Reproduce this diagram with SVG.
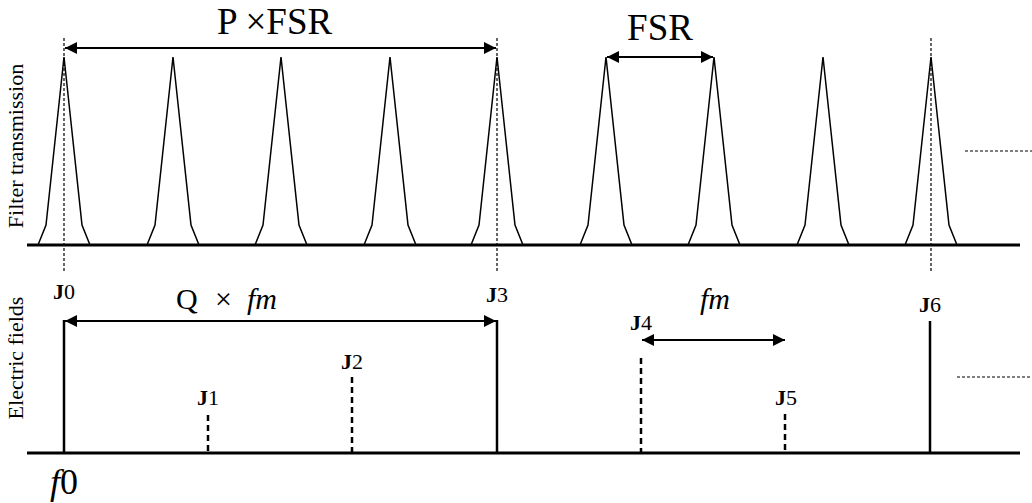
<svg xmlns="http://www.w3.org/2000/svg" width="1032" height="503" viewBox="0 0 1032 503" font-family="'Liberation Serif', 'Times New Roman', 'DejaVu Serif', serif">
<defs>
<marker id="ah" viewBox="0 0 10 10" refX="10" refY="5" markerWidth="12" markerHeight="12" markerUnits="userSpaceOnUse" orient="auto-start-reverse">
<path d="M0,0 L10,5 L0,10 Z" fill="#000"/>
</marker>
<g id="pk"><path d="M-26,245 L-18,225 L0,57 L18,225 L26,245" fill="none" stroke="#000" stroke-width="1.5" stroke-linejoin="miter"/></g>
</defs>
<style>
text{font-family:'Liberation Serif','Times New Roman','DejaVu Serif',serif;fill:#000}
.axis{stroke:#000;stroke-width:3;fill:none}
.guide{stroke:#000;stroke-width:1.2;stroke-dasharray:3,2;fill:none}
.solid{stroke:#000;stroke-width:2.5;fill:none}
.dash{stroke:#000;stroke-width:2.5;stroke-dasharray:6,4;fill:none}
.arr{stroke:#000;stroke-width:1.8;fill:none;marker-start:url(#ah);marker-end:url(#ah)}
.lbl{font-size:22px;font-weight:bold}
.sub{font-weight:normal}
</style>
<g id="axes">
<line class="axis" x1="27" y1="245" x2="1020" y2="245"/>
<line class="axis" x1="27" y1="453" x2="1020" y2="453"/>
<text x="23" y="146" font-size="22" text-anchor="middle" transform="rotate(-90 23 146)">Filter transmission</text>
<text x="23" y="358" font-size="22" text-anchor="middle" transform="rotate(-90 23 358)">Electric fields</text>
</g>
<g id="peaks">
<use href="#pk" x="64"/>
<use href="#pk" x="173"/>
<use href="#pk" x="281"/>
<use href="#pk" x="390"/>
<use href="#pk" x="497"/>
<use href="#pk" x="606"/>
<use href="#pk" x="714"/>
<use href="#pk" x="823"/>
<use href="#pk" x="931"/>
</g>
<g id="connectors">
<line class="guide" x1="64" y1="38" x2="64" y2="273"/>
<line class="guide" x1="497" y1="38" x2="497" y2="273"/>
<line class="guide" x1="931" y1="38" x2="931" y2="273"/>
<line class="guide" x1="965" y1="151" x2="1032" y2="151"/>
<line class="guide" x1="957" y1="377" x2="1032" y2="377"/>
<line class="arr" x1="65" y1="48" x2="496" y2="48"/>
<line class="arr" x1="607" y1="57" x2="713" y2="57"/>
<line class="arr" x1="65" y1="321" x2="496" y2="321"/>
<line class="arr" x1="642" y1="340" x2="785" y2="340"/>
</g>
<g id="J0"><line class="solid" x1="64" y1="320" x2="64" y2="453"/><text x="53" y="299" class="lbl">J<tspan class="sub">0</tspan></text></g>
<g id="J1"><line class="dash" x1="208" y1="415" x2="208" y2="453"/><text x="197" y="405" class="lbl">J<tspan class="sub">1</tspan></text></g>
<g id="J2"><line class="dash" x1="352" y1="377" x2="352" y2="453"/><text x="341" y="369" class="lbl">J<tspan class="sub">2</tspan></text></g>
<g id="J3"><line class="solid" x1="497" y1="320" x2="497" y2="453"/><text x="486" y="302" class="lbl">J<tspan class="sub">3</tspan></text></g>
<g id="J4"><line class="dash" x1="641" y1="358" x2="641" y2="453"/><text x="630" y="330" class="lbl">J<tspan class="sub">4</tspan></text></g>
<g id="J5"><line class="dash" x1="785" y1="414" x2="785" y2="453"/><text x="775" y="405" class="lbl">J<tspan class="sub">5</tspan></text></g>
<g id="J6"><line class="solid" x1="930" y1="321" x2="930" y2="453"/><text x="919" y="312" class="lbl">J<tspan class="sub">6</tspan></text></g>
<g id="labels">
<text x="217" y="34" font-size="37">P ×FSR</text>
<text x="660" y="40" font-size="37" text-anchor="middle">FSR</text>
<text x="176" y="309" font-size="30">Q</text>
<text x="215" y="309" font-size="30">×</text>
<text x="247" y="309" font-size="30" font-style="italic">fm</text>
<text x="700" y="309" font-size="30" font-style="italic">fm</text>
<text x="50" y="494" font-size="36"><tspan font-style="italic">f</tspan>0</text>
</g>
</svg>
